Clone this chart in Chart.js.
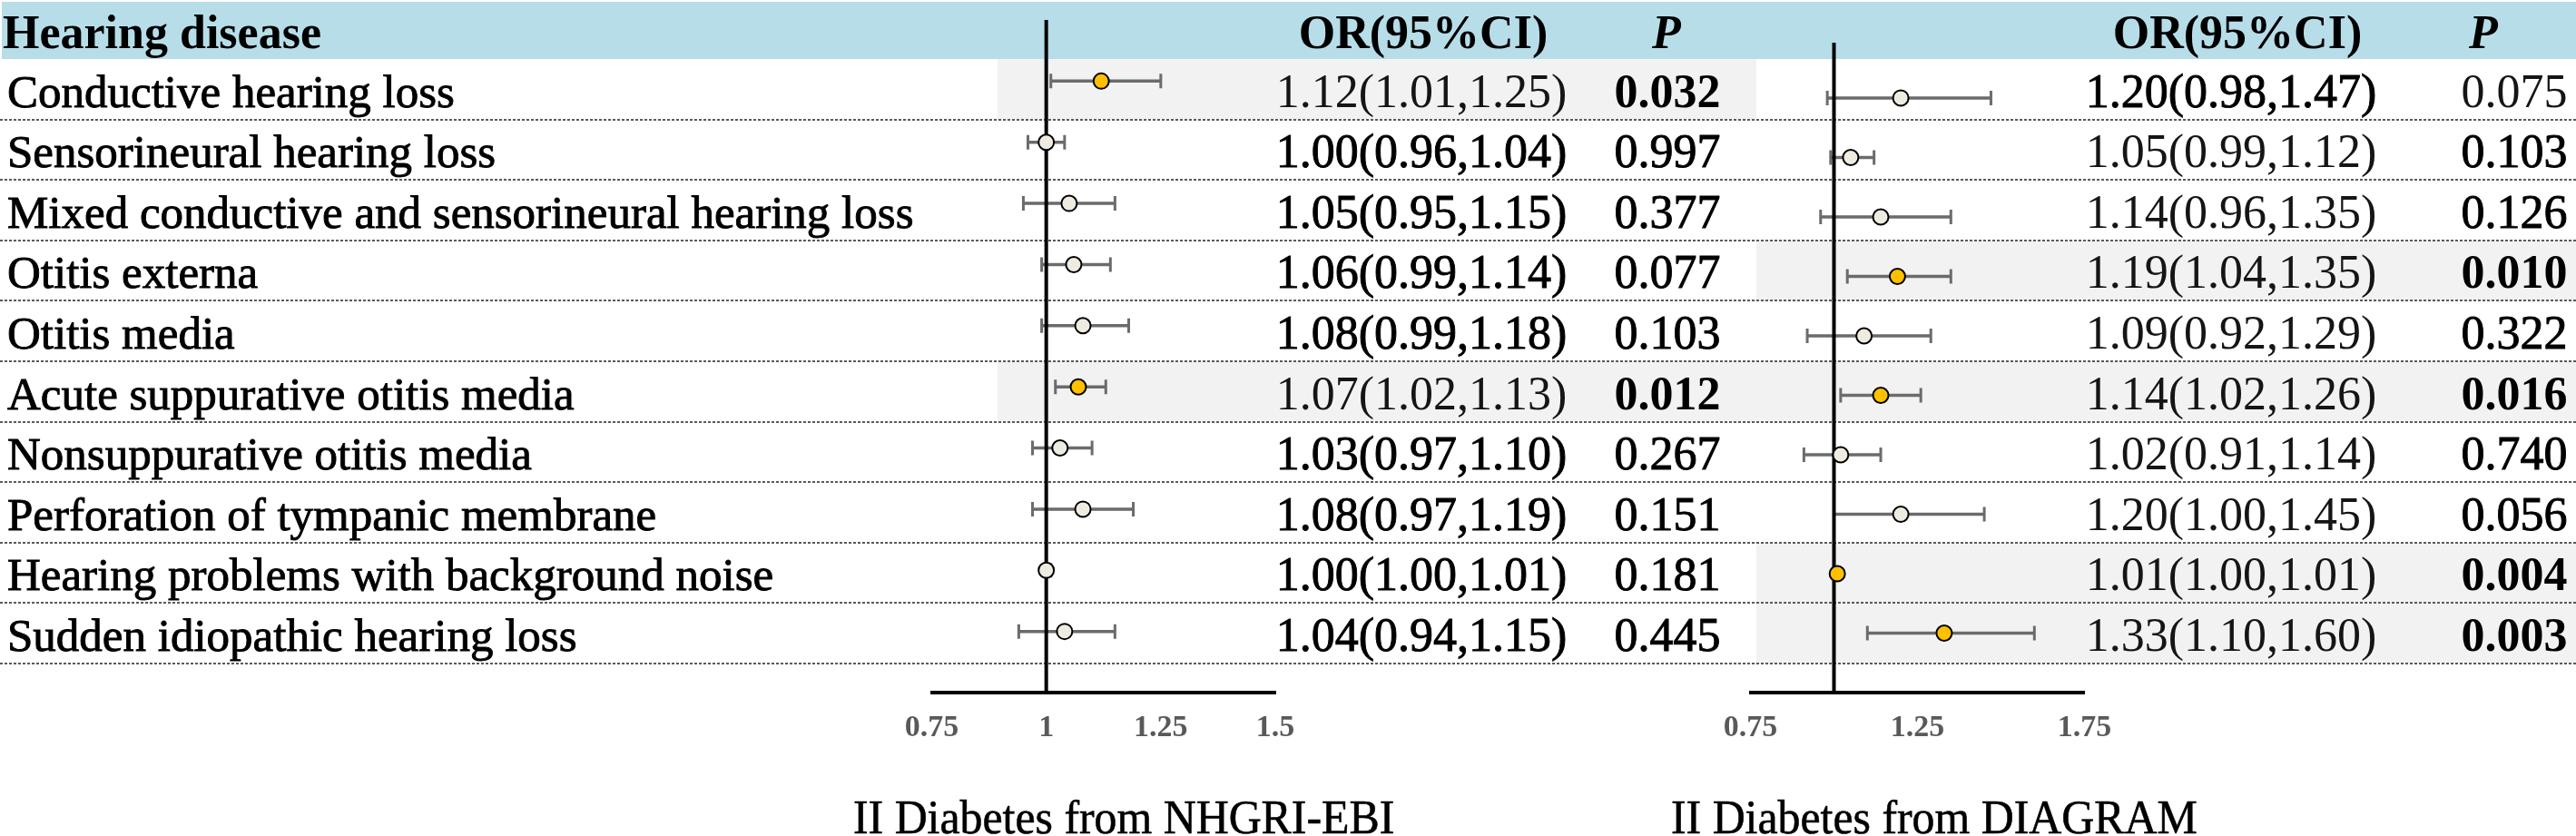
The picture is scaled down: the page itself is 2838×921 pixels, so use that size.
<!DOCTYPE html>
<html>
<head>
<meta charset="utf-8">
<script src="https://cdn.jsdelivr.net/npm/chart.js@4.4.0/dist/chart.umd.min.js"></script>
<style>
  html, body { margin: 0; padding: 0; background: #fff; }
  #page { position: relative; width: 2838px; height: 921px; overflow: hidden;
          font-family: "Liberation Serif", "Times New Roman", serif; color: #000; }
  .band { position: absolute; left: 2px; top: 2px; width: 2836px; height: 63px; background: #b7dee8; }
  .hl { position: absolute; background: #f2f2f2; }
  .dots { position: absolute; left: 0; width: 2838px; height: 2px;
          background: repeating-linear-gradient(90deg, #5a5a5a 0 3px, transparent 3px 5px); }
  .cell { position: absolute; white-space: nowrap; font-size: 52px; line-height: 60px; }
  .c { width: 400px; text-align: center; }
  .w0 { font-weight: normal; color: #151515; }
  .w1 { font-weight: normal; -webkit-text-stroke: 0.9px #000; }
  .w2 { font-weight: bold; }
  .it { font-style: italic; }
  .panel { position: absolute; top: 0; width: 500px; height: 921px; }
  .title { position: absolute; top: 870px; font-size: 53px; line-height: 60px; white-space: nowrap;
           -webkit-text-stroke: 0.6px #000; transform: scaleX(0.94); transform-origin: 0 0; }
</style>
</head>
<body>
<div id="page">
  <div class="band"></div>
  <div class="panel" id="leftWrap" style="left:960px"><canvas id="leftChart"></canvas></div>
  <div class="panel" id="rightWrap" style="left:1860px"><canvas id="rightChart"></canvas></div>
</div>
<script>
// rows of the table
const diseases = [
  'Conductive hearing loss',
  'Sensorineural hearing loss',
  'Mixed conductive and sensorineural hearing loss',
  'Otitis externa',
  'Otitis media',
  'Acute suppurative otitis media',
  'Nonsuppurative otitis media',
  'Perforation of tympanic membrane',
  'Hearing problems with background noise',
  'Sudden idiopathic hearing loss'
];

// II Diabetes from NHGRI-EBI
const leftOR = [1.12, 1.00, 1.05, 1.06, 1.08, 1.07, 1.03, 1.08, 1.00, 1.04];
const leftLo = [1.01, 0.96, 0.95, 0.99, 0.99, 1.02, 0.97, 0.97, 1.00, 0.94];
const leftHi = [1.25, 1.04, 1.15, 1.14, 1.18, 1.13, 1.10, 1.19, 1.01, 1.15];
const leftP  = [0.032, 0.997, 0.377, 0.077, 0.103, 0.012, 0.267, 0.151, 0.181, 0.445];

// II Diabetes from DIAGRAM
const rightOR = [1.20, 1.05, 1.14, 1.19, 1.09, 1.14, 1.02, 1.20, 1.01, 1.33];
const rightLo = [0.98, 0.99, 0.96, 1.04, 0.92, 1.02, 0.91, 1.00, 1.00, 1.10];
const rightHi = [1.47, 1.12, 1.35, 1.35, 1.29, 1.26, 1.14, 1.45, 1.01, 1.60];
const rightP  = [0.075, 0.103, 0.126, 0.010, 0.322, 0.016, 0.740, 0.056, 0.004, 0.003];

const leftTicks = [0.75, 1, 1.25, 1.5];
const rightTicks = [0.75, 1.25, 1.75];

// text weights as printed: 0 light, 1 medium, 2 bold
const leftORWeight  = [0, 1, 1, 1, 1, 0, 1, 1, 1, 1];
const leftPWeight   = [2, 1, 1, 1, 1, 2, 1, 1, 1, 1];
const rightORWeight = [1, 0, 0, 0, 0, 0, 0, 0, 0, 0];
const rightPWeight  = [0, 1, 1, 2, 1, 2, 1, 1, 2, 2];

const GOLD = '#ffc000';
const BEIGE = '#eeece1';
const GREY = '#6b6b6b';
const FONT = '"Liberation Serif", "Times New Roman", serif';

const ROW_Y0 = 65;
const ROW_H = 66.6;

const page = document.getElementById('page');

function addDiv(cls, css, text) {
  const d = document.createElement('div');
  d.className = cls;
  d.style.cssText = css;
  if (text !== undefined) d.textContent = text;
  page.insertBefore(d, document.getElementById('leftWrap'));
  return d;
}

function ciText(or, lo, hi) {
  return or.toFixed(2) + '(' + lo.toFixed(2) + ',' + hi.toFixed(2) + ')';
}

// highlighted rows (p < 0.05)
diseases.forEach((d, i) => {
  const top = ROW_Y0 + i * ROW_H;
  if (leftP[i] < 0.05) addDiv('hl', `left:1099px;top:${top}px;width:836px;height:${ROW_H}px`);
  if (rightP[i] < 0.05) addDiv('hl', `left:1935px;top:${top}px;width:903px;height:${ROW_H}px`);
});

// dotted separators
diseases.forEach((d, i) => {
  addDiv('dots', `top:${ROW_Y0 + (i + 1) * ROW_H - 1}px`);
});

// header
addDiv('cell w2', 'left:3px;top:5.5px', 'Hearing disease');
addDiv('cell c w2', 'left:1368px;top:5.5px', 'OR(95%CI)');
addDiv('cell c w2 it', 'left:1636px;top:5.5px', 'P');
addDiv('cell c w2', 'left:2265px;top:5.5px', 'OR(95%CI)');
addDiv('cell c w2 it', 'left:2536px;top:5.5px', 'P');

// table body
diseases.forEach((d, i) => {
  const top = ROW_Y0 + i * ROW_H + 5.5;
  addDiv('cell w1', `left:8px;top:${top}px;font-size:51px`, d);
  addDiv('cell c w' + leftORWeight[i], `left:1366px;top:${top}px`, ciText(leftOR[i], leftLo[i], leftHi[i]));
  addDiv('cell c w' + leftPWeight[i], `left:1637px;top:${top}px`, leftP[i].toFixed(3));
  addDiv('cell c w' + rightORWeight[i], `left:2258px;top:${top}px`, ciText(rightOR[i], rightLo[i], rightHi[i]));
  addDiv('cell c w' + rightPWeight[i], `left:2570px;top:${top}px`, rightP[i].toFixed(3));
});

addDiv('title', 'left:940px', 'II Diabetes from NHGRI-EBI');
addDiv('title', 'left:1841px', 'II Diabetes from DIAGRAM');

function forestPanel(canvasId, or, lo, hi, p, ticks, xMin, xMax, yMin, pad) {
  const ciSegments = [];
  or.forEach((v, i) => {
    ciSegments.push({ x: lo[i], y: i }, { x: hi[i], y: i }, { x: NaN, y: NaN });
  });
  const caps = [];
  or.forEach((v, i) => {
    caps.push({ x: lo[i], y: i }, { x: hi[i], y: i });
  });

  new Chart(document.getElementById(canvasId), {
    type: 'scatter',
    data: {
      datasets: [
        {
          label: 'OR',
          data: or.map((v, i) => ({ x: v, y: i })),
          pointRadius: 8.5,
          pointBackgroundColor: p.map(v => v < 0.05 ? GOLD : BEIGE),
          pointBorderColor: '#000',
          pointBorderWidth: 2,
          order: 0
        },
        {
          label: 'null line',
          type: 'line',
          data: [{ x: 1, y: yMin }, { x: 1, y: 10 }],
          borderColor: '#000',
          borderWidth: 4,
          pointRadius: 0,
          order: 1
        },
        {
          label: 'caps',
          data: caps,
          pointStyle: 'line',
          rotation: 90,
          pointRadius: 8,
          pointBorderColor: GREY,
          pointBorderWidth: 3,
          order: 2
        },
        {
          label: '95% CI',
          type: 'line',
          data: ciSegments,
          borderColor: GREY,
          borderWidth: 3.5,
          pointRadius: 0,
          spanGaps: false,
          order: 3
        }
      ]
    },
    options: {
      responsive: true,
      maintainAspectRatio: false,
      devicePixelRatio: 1,
      animation: false,
      events: [],
      layout: { padding: { left: pad.left, right: pad.right, top: pad.top, bottom: 0 } },
      plugins: { legend: { display: false }, tooltip: { enabled: false } },
      scales: {
        x: {
          type: 'linear',
          min: xMin,
          max: xMax,
          afterBuildTicks: s => { s.ticks = ticks.map(v => ({ value: v })); },
          afterFit: s => { s.height = 158; },
          grid: { display: false, drawTicks: false },
          border: { display: true, color: '#000', width: 4 },
          ticks: {
            padding: 19,
            color: '#595959',
            maxRotation: 0,
            autoSkip: false,
            font: { family: FONT, size: 34, weight: 'bold' },
            callback: v => String(v)
          }
        },
        y: {
          type: 'linear',
          reverse: true,
          min: yMin,
          max: 10,
          display: false
        }
      }
    }
  });
}

forestPanel('leftChart', leftOR, leftLo, leftHi, leftP, leftTicks, 0.75, 1.5, -1,
  { left: 66.5, right: 55, top: 22 });
forestPanel('rightChart', rightOR, rightLo, rightHi, rightP, rightTicks, 0.75, 1.75, -0.93,
  { left: 68.5, right: 63.5, top: 47 });
</script>
</body>
</html>
